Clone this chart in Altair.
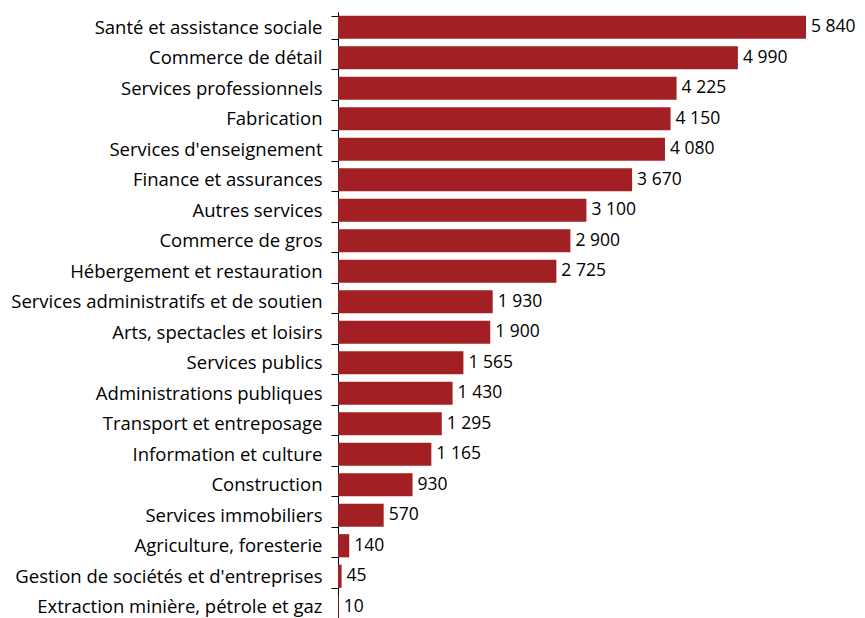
import altair as alt
import pandas as pd

categories = [
    "Santé et assistance sociale",
    "Commerce de détail",
    "Services professionnels",
    "Fabrication",
    "Services d'enseignement",
    "Finance et assurances",
    "Autres services",
    "Commerce de gros",
    "Hébergement et restauration",
    "Services administratifs et de soutien",
    "Arts, spectacles et loisirs",
    "Services publics",
    "Administrations publiques",
    "Transport et entreposage",
    "Information et culture",
    "Construction",
    "Services immobiliers",
    "Agriculture, foresterie",
    "Gestion de sociétés et d'entreprises",
    "Extraction minière, pétrole et gaz",
]
values = [5840, 4990, 4225, 4150, 4080, 3670, 3100, 2900, 2725, 1930,
          1900, 1565, 1430, 1295, 1165, 930, 570, 140, 45, 10]

df = pd.DataFrame({"cat": categories, "v": values})

FONT = "Open Sans"
RED = "#A21F24"
FS = 18.5

y = alt.Y("cat:N", sort=categories, title=None,
          scale=alt.Scale(paddingInner=0.24, paddingOuter=0.12),
          axis=alt.Axis(domainColor="#000000", tickColor="#000000", tickSize=7,
                        tickBand="extent", labelPadding=9, labelFontSize=FS,
                        labelFont=FONT, labelColor="#000000", labelLimit=400))
x = alt.X("v:Q", title=None, axis=None,
          scale=alt.Scale(domain=[0, 5840], nice=False, zero=True))

bars = alt.Chart(df).mark_bar(color=RED).encode(x=x, y=y)
labels = alt.Chart(df).transform_calculate(
    lab="replace(format(datum.v, ','), ',', ' ')"
).mark_text(align="left", baseline="middle", dx=5, font=FONT, fontSize=17.5,
            color="#000000").encode(x=x, y=y, text="lab:N")

chart = (bars + labels).properties(
    width=468, height=610,
    autosize=alt.AutoSizeParams(type="none"),
    padding={"left": 330, "top": 4, "right": 51, "bottom": 0},
).configure_view(stroke=None)

chart.save("out.html", embed_options={"renderer": "svg", "actions": False})
